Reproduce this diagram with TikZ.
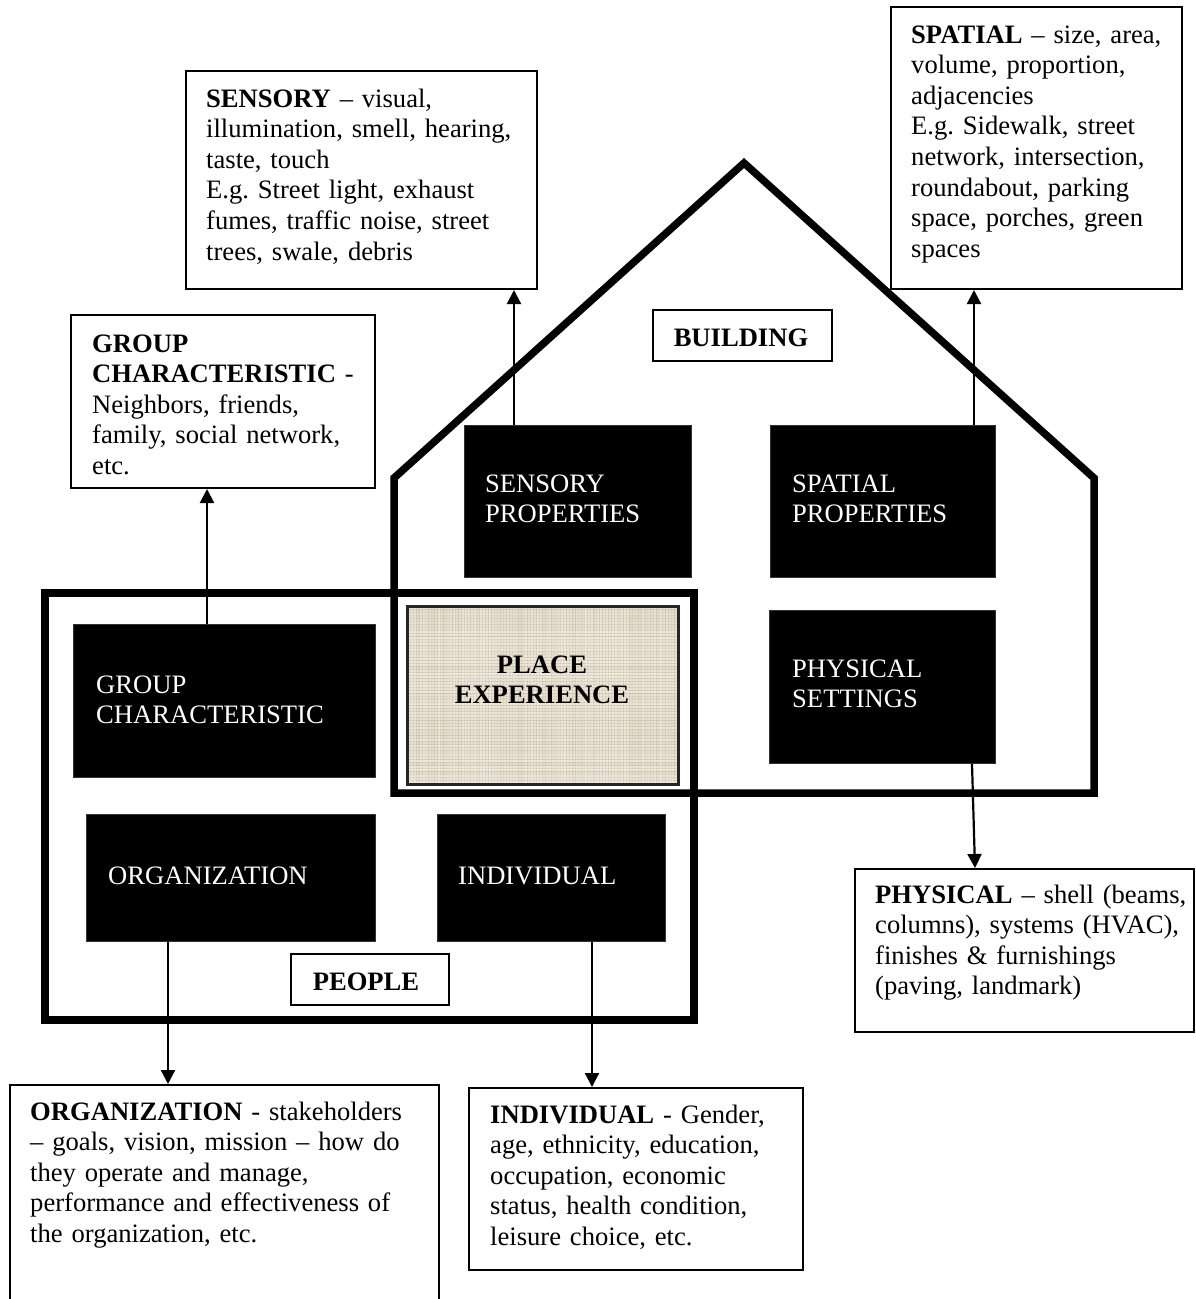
\documentclass[tikz,border=0pt]{standalone}
\usepackage{fontspec}
\setmainfont{Liberation Serif}
\usetikzlibrary{arrows.meta}
\definecolor{pebase}{RGB}{221,212,193}
\definecolor{pelight}{RGB}{242,237,226}
\definecolor{pedark}{RGB}{170,160,140}
\frenchspacing
\begin{document}
\begin{tikzpicture}[x=1pt,y=-1pt,
  txt/.style={font=\fontsize{26.6}{30.6}\selectfont\frenchspacing, inner sep=0pt, anchor=base west, align=left, text width=430pt},
  wtxt/.style={txt, text=white},
  ctxt/.style={font=\fontsize{26.6}{30.6}\selectfont\bfseries, inner sep=0pt, anchor=base, align=center, text width=260pt},
  tbox/.style={draw=black, line width=2pt, fill=white, rectangle, inner sep=0pt, anchor=north west},
  bbox/.style={fill=black, draw=black!80, line width=0.6pt, rectangle, inner sep=0pt, anchor=north west},
  heavyline/.style={line width=7.5pt, line join=miter},
  arr/.style={line width=2.2pt, -{Triangle[width=14pt,length=14pt]}},
]
\useasboundingbox (0,0) rectangle (1195,1299);
\clip (0,0) rectangle (1195,1299);
\fill[white] (0,0) rectangle (1195,1299);

% thick outlines: PEOPLE frame and BUILDING house
\draw[heavyline] (45,593) rectangle (694,1020);
\draw[heavyline] (394,793) -- (394,478) -- (744,163) -- (1094,478) -- (1094,793) -- cycle;

% text boxes
\node[tbox, minimum width=351pt, minimum height=218pt] (sensbox) at (185,70) {};
\node[txt] (senstxt) at (206,107) {\textbf{SENSORY} – visual,\\illumination, smell, hearing,\\taste, touch\\E.g. Street light, exhaust\\fumes, traffic noise, street\\trees, swale, debris};

\node[tbox, minimum width=291pt, minimum height=282pt] (spatbox) at (890,6) {};
\node[txt] (spattxt) at (911,43) {\textbf{SPATIAL} – size, area,\\volume, proportion,\\adjacencies\\E.g. Sidewalk, street\\network, intersection,\\roundabout, parking\\space, porches, green\\spaces};

\node[tbox, minimum width=304pt, minimum height=173pt] (grpbox) at (70,314) {};
\node[txt] (grptxt) at (92,352) {\textbf{GROUP}\\\textbf{CHARACTERISTIC} -\\Neighbors, friends,\\family, social network,\\etc.};

\node[tbox, minimum width=429pt, minimum height=240pt] (orgbox) at (9,1084) {};
\node[txt] (orgtxt) at (30,1120) {\textbf{ORGANIZATION} - stakeholders\\– goals, vision, mission – how do\\they operate and manage,\\performance and effectiveness of\\the organization, etc.};

\node[tbox, minimum width=334pt, minimum height=182pt] (indbox) at (468,1087) {};
\node[txt] (indtxt) at (490,1123) {\textbf{INDIVIDUAL} - Gender,\\age, ethnicity, education,\\occupation, economic\\status, health condition,\\leisure choice, etc.};

\node[tbox, minimum width=339pt, minimum height=163pt] (physbox) at (854,868) {};
\node[txt] (phystxt) at (875,903) {\textbf{PHYSICAL} – shell (beams,\\columns), systems (HVAC),\\finishes \& furnishings\\(paving, landmark)};

% black boxes
\node[bbox, minimum width=227pt, minimum height=152pt] (sensp) at (464,425) {};
\node[wtxt] (sensptxt) at (485,492) {SENSORY\\PROPERTIES};
\node[bbox, minimum width=225pt, minimum height=152pt] (spatp) at (770,425) {};
\node[wtxt] (spatptxt) at (792,492) {SPATIAL\\PROPERTIES};
\node[bbox, minimum width=226pt, minimum height=153pt] (physs) at (769,610) {};
\node[wtxt] (physstxt) at (792,677) {PHYSICAL\\SETTINGS};
\node[bbox, minimum width=302pt, minimum height=153pt] (grpc) at (73,624) {};
\node[wtxt] (grpctxt) at (96,693) {GROUP\\CHARACTERISTIC};
\node[bbox, minimum width=289pt, minimum height=127pt] (orgn) at (86,814) {};
\node[wtxt] (orgntxt) at (108,884) {ORGANIZATION};
\node[bbox, minimum width=228pt, minimum height=127pt] (indv) at (437,814) {};
\node[wtxt] (indvtxt) at (458,884) {INDIVIDUAL};

% labels
\node[tbox, minimum width=179pt, minimum height=51pt] (bldg) at (652,309) {};
\node[ctxt] (bldgtxt) at (741,346) {BUILDING};
\node[tbox, minimum width=158pt, minimum height=51pt] (ppl) at (290,953) {};
\node[ctxt] (ppltxt) at (366,990) {PEOPLE};

% place experience textured box
\begin{scope}
\clip (406,605) rectangle (677,783);
\fill[pebase] (406,605) rectangle (677,783);
\pgfmathsetseed{4711}
\foreach \i in {0,...,90}{
  \pgfmathsetmacro\opa{0.10+0.55*rnd}
  \pgfmathsetmacro\opb{0.30*rnd}
  \draw[pelight, opacity=\opa, line width=1.1pt] (406+3*\i,605) -- (406+3*\i,783);
  \draw[pedark, opacity=\opb, line width=0.7pt] (407.5+3*\i,605) -- (407.5+3*\i,783);
}
\foreach \j in {0,...,60}{
  \pgfmathsetmacro\opa{0.10+0.55*rnd}
  \pgfmathsetmacro\opb{0.30*rnd}
  \draw[pelight, opacity=\opa, line width=1.1pt] (406,605+3*\j) -- (677,605+3*\j);
  \draw[pedark, opacity=\opb, line width=0.7pt] (406,606.5+3*\j) -- (677,606.5+3*\j);
}
\end{scope}
\node[draw=black!85, line width=2.5pt, rectangle, inner sep=0pt, anchor=north west, minimum width=271pt, minimum height=178pt] (pe) at (406,605) {};
\node[ctxt] (petxt) at (542,673) {PLACE\\EXPERIENCE};

% connectors
\draw[arr] (sensp.north -| 514,0) -- (sensbox.south -| 514,0);
\draw[arr] (spatp.north -| 974,0) -- (spatbox.south -| 974,0);
\draw[arr] (grpc.north -| 207,0) -- (grpbox.south -| 207,0);
\draw[arr] (physs.south -| 972,0) -- (physbox.north -| 975,0);
\draw[arr] (orgn.south -| 168,0) -- (orgbox.north -| 168,0);
\draw[arr] (indv.south -| 592,0) -- (indbox.north -| 592,0);
\end{tikzpicture}
\end{document}
